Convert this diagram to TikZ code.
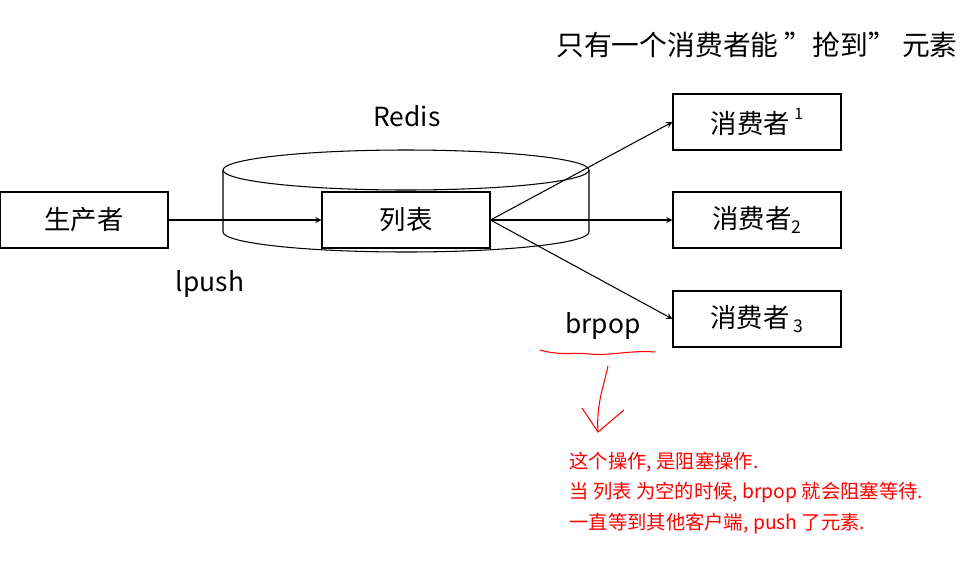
\documentclass[tikz,border=0pt]{standalone}
\usepackage{fontspec}
\setmainfont{Noto Sans CJK SC}
\usetikzlibrary{arrows,shapes,positioning}

\begin{document}
\begin{tikzpicture}[x=0.02cm, y=-0.02cm, >=stealth, semithick,
  box/.style={draw, minimum width=3.36cm, minimum height=1.12cm, inner sep=0pt, font=\fontsize{15}{18}\selectfont},
  lbl/.style={font=\fontsize{15}{18}\selectfont},
  note/.style={text=red, font=\fontsize{11}{13}\selectfont, anchor=west}]
\useasboundingbox (0,0) rectangle (975,562);

% Redis cylinder
\draw (223,170) -- (223,232) arc[start angle=180, end angle=0, x radius=183, y radius=20] -- (589,170);
\draw (406,170) ellipse [x radius=183, y radius=20];
\node[lbl] (redis) at (407,116) {Redis};

\node[box, fill=white] (prod) at (84,220) {生产者};
\node[box, fill=white] (list) at (406,220) {列表};
\node[box] (c1) at (757,122) {消费者\,\raisebox{1ex}{\fontsize{9}{10}\selectfont 1}};
\node[box] (c2) at (757,220) {消费者\raisebox{-0.3ex}{\fontsize{10}{10}\selectfont 2}};
\node[box] (c3) at (757,319) {消费者\,\raisebox{-0.3ex}{\fontsize{10}{10}\selectfont 3}};

\node[font=\fontsize{15.8}{18}\selectfont] (title) at (757,45) {只有一个消费者能 ”抢到” 元素};
\node[lbl] (lpush) at (210,284) {lpush};
\node[lbl] (brpop) at (603,326) {brpop};

\draw[->] (prod) -- (list);
\draw[->] (list.east) -- (c1.west);
\draw[->] (list.east) -- (c2.west);
\draw[->] (list.east) -- (c3.west);

% red annotation
\coordinate (wa) at (540,350);
\coordinate (wb) at (655,352);
\coordinate (ta) at (608,366);
\coordinate (tb) at (598,432);
\draw[red] (wa) .. controls (560,356) and (575,352) .. (590,354) .. controls (610,356) and (630,350) .. (wb);
\draw[red] (ta) .. controls (604,385) and (596,405) .. (tb);
\draw[red] (582,408) -- (tb) -- (624,410);

\node[note] (n1) at (563,462) {这个操作, 是阻塞操作.};
\node[note] (n2) at (563,493) {当 列表 为空的时候, brpop 就会阻塞等待.};
\node[note] (n3) at (563,524) {一直等到其他客户端, push 了元素.};
\end{tikzpicture}
\end{document}
